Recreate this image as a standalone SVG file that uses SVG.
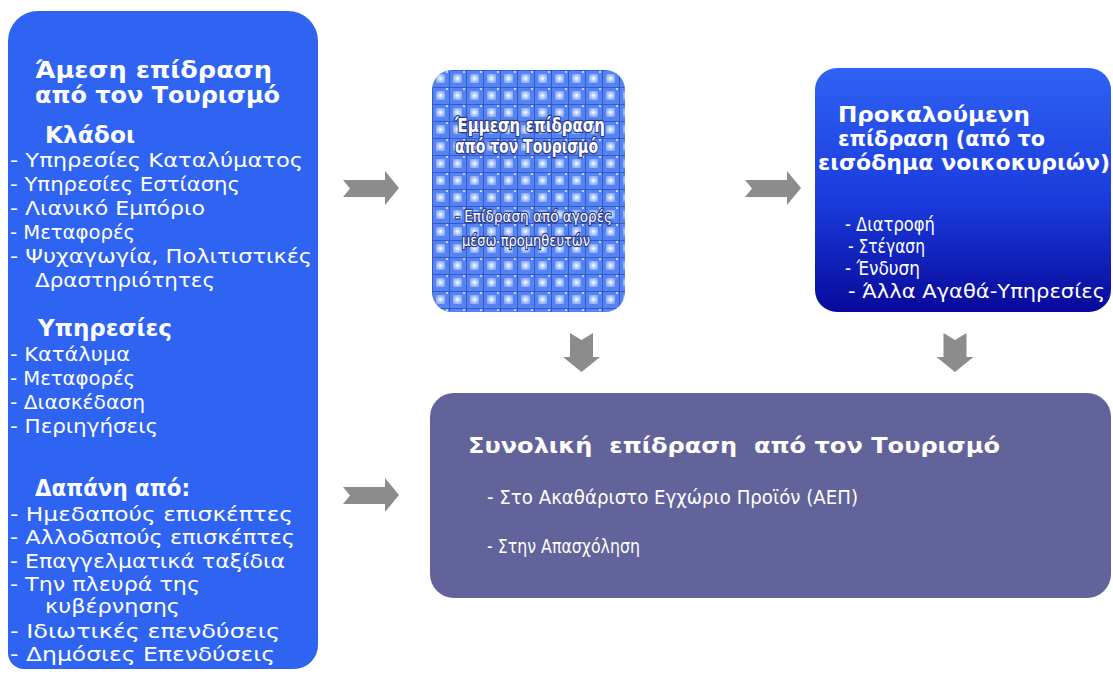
<svg xmlns="http://www.w3.org/2000/svg" width="1113" height="675" viewBox="0 0 1113 675">
<style>
.t{font-family:"DejaVu Sans","Noto Sans",sans-serif;fill:#ffffff}
.h{font-weight:bold;font-size:23px}
.hr{font-weight:bold;font-size:22px}
.i{font-size:20px}
.ib{font-size:19px}
.mt{font-weight:bold;font-size:19px;stroke:#2a3a8a;stroke-width:2.5;paint-order:stroke;stroke-linejoin:round}
.mi{font-size:16px;stroke:#2a3a8a;stroke-width:2.5;paint-order:stroke;stroke-linejoin:round}
.arrow{fill:#8c8c8c}
</style>
<defs>
<path id="ar" d="M0,9 L42,9 L42,0 L56,17 L42,34 L42,26 L0,26 L7,17.5 Z"/>
<path id="ad" d="M-11.5,0 L0,7 L11.5,0 L11.5,24 L18.5,24 L0,39 L-18.5,24 L-11.5,24 Z"/>
<linearGradient id="gBlue" x1="0" y1="0" x2="0" y2="1">
<stop offset="0" stop-color="#2f62f4"/>
<stop offset="0.55" stop-color="#1a3bdc"/>
<stop offset="1" stop-color="#08099a"/>
</linearGradient>
<radialGradient id="cell" cx="0.5" cy="0.5" r="0.6">
<stop offset="0" stop-color="#ffffff"/>
<stop offset="0.5" stop-color="#b4cbfb"/>
<stop offset="1" stop-color="#7aa0f6"/>
</radialGradient>
<pattern id="tex" x="432" y="70" width="17" height="17" patternUnits="userSpaceOnUse">
<rect width="17" height="17" fill="#5584f2"/>
<rect x="4" y="4" width="9" height="9" fill="url(#cell)"/>
<path d="M0,0.5 H17 M0.5,0 V17" stroke="#3459cc" stroke-width="1"/>
<path d="M14,1 L16,3 M16,1 L14,3" stroke="#dbe6ff" stroke-width="0.8"/>
</pattern>
</defs>

<g id="connectors">
<use href="#ar" class="arrow" x="343" y="171"/>
<use href="#ar" class="arrow" x="745" y="171"/>
<use href="#ar" class="arrow" x="343" y="478"/>
<use href="#ad" class="arrow" x="581.5" y="333"/>
<use href="#ad" class="arrow" x="955" y="333"/>
</g>

<g id="direct">
<path d="M38,11 H288 A30,30 0 0 1 318,41 V645 A24,24 0 0 1 294,669 H24 A16,16 0 0 1 8,653 V41 A30,30 0 0 1 38,11 Z" fill="#2f64f2"/>
<text class="t h" x="35" y="78" textLength="237" lengthAdjust="spacingAndGlyphs">Άμεση επίδραση</text>
<text class="t h" x="35" y="103" textLength="245" lengthAdjust="spacingAndGlyphs">από τον Τουρισμό</text>
<text class="t h" x="45" y="143" textLength="90" lengthAdjust="spacingAndGlyphs">Κλάδοι</text>
<text class="t i" x="10" y="167" textLength="293" lengthAdjust="spacingAndGlyphs">- Υπηρεσίες Καταλύματος</text>
<text class="t i" x="10" y="191" textLength="230" lengthAdjust="spacingAndGlyphs">- Υπηρεσίες Εστίασης</text>
<text class="t i" x="10" y="215" textLength="195" lengthAdjust="spacingAndGlyphs">- Λιανικό Εμπόριο</text>
<text class="t i" x="10" y="239" textLength="125" lengthAdjust="spacingAndGlyphs">- Μεταφορές</text>
<text class="t i" x="10" y="263" textLength="302" lengthAdjust="spacingAndGlyphs">- Ψυχαγωγία, Πολιτιστικές</text>
<text class="t i" x="35" y="287" textLength="180" lengthAdjust="spacingAndGlyphs">Δραστηριότητες</text>
<text class="t h" x="38" y="336" textLength="134" lengthAdjust="spacingAndGlyphs">Υπηρεσίες</text>
<text class="t i" x="10" y="361" textLength="120" lengthAdjust="spacingAndGlyphs">- Κατάλυμα</text>
<text class="t i" x="10" y="385" textLength="125" lengthAdjust="spacingAndGlyphs">- Μεταφορές</text>
<text class="t i" x="10" y="409" textLength="135" lengthAdjust="spacingAndGlyphs">- Διασκέδαση</text>
<text class="t i" x="10" y="433" textLength="148" lengthAdjust="spacingAndGlyphs">- Περιηγήσεις</text>
<text class="t h" x="35" y="496" textLength="155" lengthAdjust="spacingAndGlyphs">Δαπάνη από:</text>
<text class="t i" x="10" y="521" textLength="283" lengthAdjust="spacingAndGlyphs">- Ημεδαπούς επισκέπτες</text>
<text class="t i" x="10" y="544" textLength="285" lengthAdjust="spacingAndGlyphs">- Αλλοδαπούς επισκέπτες</text>
<text class="t i" x="10" y="568" textLength="275" lengthAdjust="spacingAndGlyphs">- Επαγγελματικά ταξίδια</text>
<text class="t i" x="10" y="591" textLength="190" lengthAdjust="spacingAndGlyphs">- Την πλευρά της</text>
<text class="t i" x="45" y="613" textLength="135" lengthAdjust="spacingAndGlyphs">κυβέρνησης</text>
<text class="t i" x="10" y="638" textLength="270" lengthAdjust="spacingAndGlyphs">- Ιδιωτικές επενδύσεις</text>
<text class="t i" x="10" y="661" textLength="265" lengthAdjust="spacingAndGlyphs">- Δημόσιες Επενδύσεις</text>
</g>

<g id="indirect">
<rect x="432" y="70" width="193" height="242" rx="20" fill="url(#tex)"/>
<text class="t mt" x="455" y="132" textLength="150" lengthAdjust="spacingAndGlyphs">Έμμεση επίδραση</text>
<text class="t mt" x="455" y="153" textLength="143" lengthAdjust="spacingAndGlyphs">από τον Τουρισμό</text>
<text class="t mi" x="455" y="222" textLength="157" lengthAdjust="spacingAndGlyphs">- Επίδραση από αγορές</text>
<text class="t mi" x="462" y="246" textLength="128" lengthAdjust="spacingAndGlyphs">μέσω προμηθευτών</text>
</g>

<g id="induced">
<rect x="815" y="68" width="296" height="244" rx="22" fill="url(#gBlue)"/>
<text class="t hr" x="838" y="122" textLength="192" lengthAdjust="spacingAndGlyphs">Προκαλούμενη</text>
<text class="t hr" x="838" y="146" textLength="207" lengthAdjust="spacingAndGlyphs">επίδραση (από το</text>
<text class="t hr" x="818" y="170" textLength="292" lengthAdjust="spacingAndGlyphs">εισόδημα νοικοκυριών)</text>
<text class="t i" x="845" y="231" textLength="90" lengthAdjust="spacingAndGlyphs">- Διατροφή</text>
<text class="t i" x="848" y="253" textLength="77" lengthAdjust="spacingAndGlyphs">- Στέγαση</text>
<text class="t i" x="845" y="275" textLength="75" lengthAdjust="spacingAndGlyphs">- Ένδυση</text>
<text class="t i" x="848" y="298" textLength="257" lengthAdjust="spacingAndGlyphs">- Άλλα Αγαθά-Υπηρεσίες</text>
</g>

<g id="total">
<rect x="430" y="393" width="681" height="205" rx="24" fill="#62639a"/>
<text class="t hr" x="468" y="453" textLength="532" lengthAdjust="spacingAndGlyphs" xml:space="preserve">Συνολική  επίδραση  από τον Τουρισμό</text>
<text class="t ib" x="487" y="504" textLength="371" lengthAdjust="spacingAndGlyphs">- Στο Ακαθάριστο Εγχώριο Προϊόν (ΑΕΠ)</text>
<text class="t ib" x="487" y="553" textLength="153" lengthAdjust="spacingAndGlyphs">- Στην Απασχόληση</text>
</g>
</svg>
